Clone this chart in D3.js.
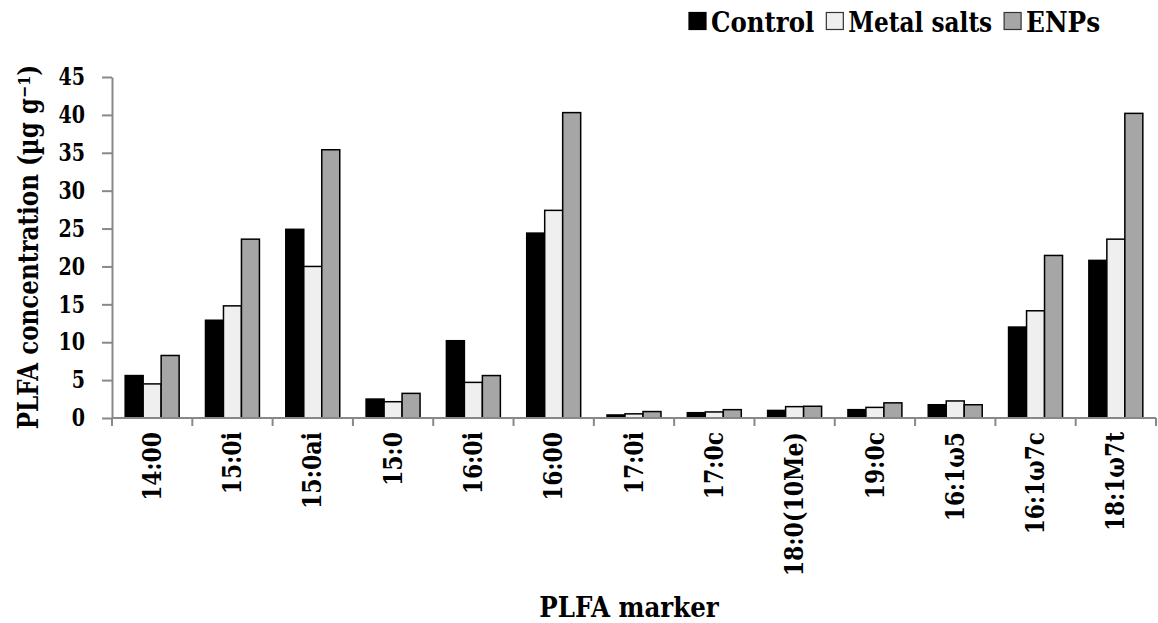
<!DOCTYPE html>
<html>
<head>
<meta charset="utf-8">
<script src="https://cdn.jsdelivr.net/npm/d3@7"></script>
<style>
  html, body { margin: 0; padding: 0; background: #fff; }
  svg { display: block; }
</style>
</head>
<body>
<svg id="chart" width="1158" height="623"></svg>
<script>
// PLFA markers on the x axis
const categories = ["14:00", "15:0i", "15:0ai", "15:0", "16:0i", "16:00", "17:0i",
  "17:0c", "18:0(10Me)", "19:0c", "16:1\u03c95", "16:1\u03c97c", "18:1\u03c97t"];

// Treatment series (µg g⁻¹)
const seriesNames = ["Control", "Metal salts", "ENPs"];
const control    = [5.6, 12.9, 24.9, 2.5, 10.2, 24.4, 0.4, 0.7, 1.0, 1.1, 1.75, 12.0, 20.8];
const metalSalts = [4.5, 14.8, 20.0, 2.15, 4.7, 27.4, 0.55, 0.8, 1.5, 1.4, 2.25, 14.15, 23.6];
const enps       = [8.25, 23.6, 35.4, 3.25, 5.6, 40.3, 0.85, 1.1, 1.55, 2.0, 1.75, 21.45, 40.2];

// Y axis tick values
const yTicks = [0, 5, 10, 15, 20, 25, 30, 35, 40, 45];

const seriesValues = [control, metalSalts, enps];
const fills = ["#000000", "#efefef", "#a6a6a6"];
const axisColor = "#888888";
const FONT = "DejaVu Serif";

// Advance widths (per 1000 em) of a bold Times-style face; DejaVu Serif is
// condensed horizontally so the labels keep those classic proportions.
const advance = {
  "0": 500, "1": 500, "2": 500, "3": 500, "4": 500, "5": 500, "6": 500, "7": 500, "8": 500, "9": 500,
  ":": 333, "(": 333, ")": 333, " ": 250, "\u2212": 570,
  a: 500, c: 444, e: 444, g: 500, i: 278, k: 556, l: 278, m: 833, n: 556, o: 500,
  r: 444, s: 389, t: 333, A: 722, C: 722, E: 667, F: 611, L: 667, M: 944, N: 722, P: 611,
  "\u00b5": 556, "\u03c9": 690
};
const classicWidth = (str, size) => [...str].reduce((w, ch) => w + (advance[ch] || 500), 0) * size / 1000;
const CAP_RATIO = 0.908; // matches cap heights of the two faces

// Sets a condensed text; base is the positioning transform, target its natural width
function condense(sel, base, target) {
  const w = sel.node().getComputedTextLength();
  const sx = target / w;
  sel.attr("transform", `${base} scale(${sx},1)`);
}

const svg = d3.select("#chart")
  .attr("font-family", FONT)
  .attr("font-weight", "bold");

const plot = { left: 112, right: 1156, top: 77, bottom: 418 };

const x = d3.scaleBand().domain(categories).range([plot.left, plot.right]).padding(0);
const bw = x.bandwidth();
const groupW = bw * 0.672;
const x1 = d3.scaleBand().domain(seriesNames).range([(bw - groupW) / 2, (bw + groupW) / 2]).padding(0);
const y = d3.scaleLinear().domain([0, 45]).range([plot.bottom, plot.top]);

// Bars
const rows = categories.map((c, i) => ({
  cat: c,
  vals: seriesNames.map((s, k) => ({ s, k, v: seriesValues[k][i] }))
}));

const groups = svg.append("g").selectAll("g")
  .data(rows).join("g")
  .attr("transform", d => `translate(${x(d.cat)},0)`);

groups.selectAll("rect")
  .data(d => d.vals).join("rect")
  .attr("x", d => x1(d.s))
  .attr("y", d => y(d.v))
  .attr("width", x1.bandwidth())
  .attr("height", d => y(0) - y(d.v))
  .attr("fill", d => fills[d.k])
  .attr("stroke", "#000")
  .attr("stroke-width", 1.5);

// Y axis
const tickSize = 26.5;
const yAxis = d3.axisLeft(y).tickValues(yTicks).tickSize(10).tickSizeOuter(0).tickPadding(17);
const gy = svg.append("g").attr("transform", `translate(${plot.left},0)`).call(yAxis)
  .attr("font-family", FONT).attr("font-size", tickSize * CAP_RATIO).attr("font-weight", "bold");
gy.select(".domain").attr("stroke", axisColor).attr("stroke-width", 2);
gy.selectAll(".tick line").attr("stroke", axisColor).attr("stroke-width", 2);
gy.selectAll(".tick text").attr("fill", "#000").attr("x", null).each(function (d) {
  condense(d3.select(this), "translate(-27,0)", classicWidth(String(d), tickSize));
});

// X axis line
svg.append("line")
  .attr("x1", plot.left).attr("x2", plot.right)
  .attr("y1", y(0)).attr("y2", y(0))
  .attr("stroke", axisColor).attr("stroke-width", 2);

// X ticks at category boundaries
const boundaries = categories.map(c => x(c)).concat([plot.right]);
svg.append("g").selectAll("line")
  .data(boundaries).join("line")
  .attr("x1", d => d).attr("x2", d => d)
  .attr("y1", y(0)).attr("y2", y(0) + 8)
  .attr("stroke", axisColor).attr("stroke-width", 2);

// X labels (rotated)
const labelSize = 29.5;
svg.append("g").selectAll("text")
  .data(categories).join("text")
  .attr("text-anchor", "end")
  .attr("dy", "0.36em")
  .attr("font-size", labelSize * CAP_RATIO)
  .text(d => d)
  .each(function (d) {
    condense(d3.select(this), `translate(${x(d) + bw / 2 - 1},432) rotate(-90)`, classicWidth(d, labelSize));
  });

// Axis titles
const titleSize = 30;
const xTitle = svg.append("text")
  .attr("text-anchor", "middle")
  .attr("font-size", titleSize * CAP_RATIO)
  .text("PLFA marker");
condense(xTitle, "translate(629,617)", classicWidth("PLFA marker", 29.5));

const supSize = 19;
const yTitle = svg.append("text")
  .attr("text-anchor", "middle")
  .attr("font-size", titleSize * CAP_RATIO);
yTitle.append("tspan").text("PLFA concentration (\u00b5g g");
yTitle.append("tspan").attr("dy", "-0.45em").attr("font-size", supSize * CAP_RATIO).text("\u22121");
yTitle.append("tspan").attr("dy", "0.3em").text(")");
condense(yTitle, "translate(38,247) rotate(-90)",
  classicWidth("PLFA concentration (\u00b5g g)", titleSize) + classicWidth("\u22121", supSize));

// Legend
const legendSize = 31;
const legend = svg.append("g");
let lx = 689;
const sq = 17;
seriesNames.forEach((name, k) => {
  legend.append("rect")
    .attr("x", lx).attr("y", 12.5).attr("width", sq).attr("height", sq)
    .attr("fill", fills[k]).attr("stroke", k === 0 ? "#000" : "#333").attr("stroke-width", 1.2);
  const tx = lx + sq + 5;
  const tw = classicWidth(name, legendSize);
  const t = legend.append("text")
    .attr("font-size", legendSize * CAP_RATIO)
    .text(name);
  condense(t, `translate(${tx},31.5)`, tw);
  lx = tx + tw + 12;
});
</script>
</body>
</html>
